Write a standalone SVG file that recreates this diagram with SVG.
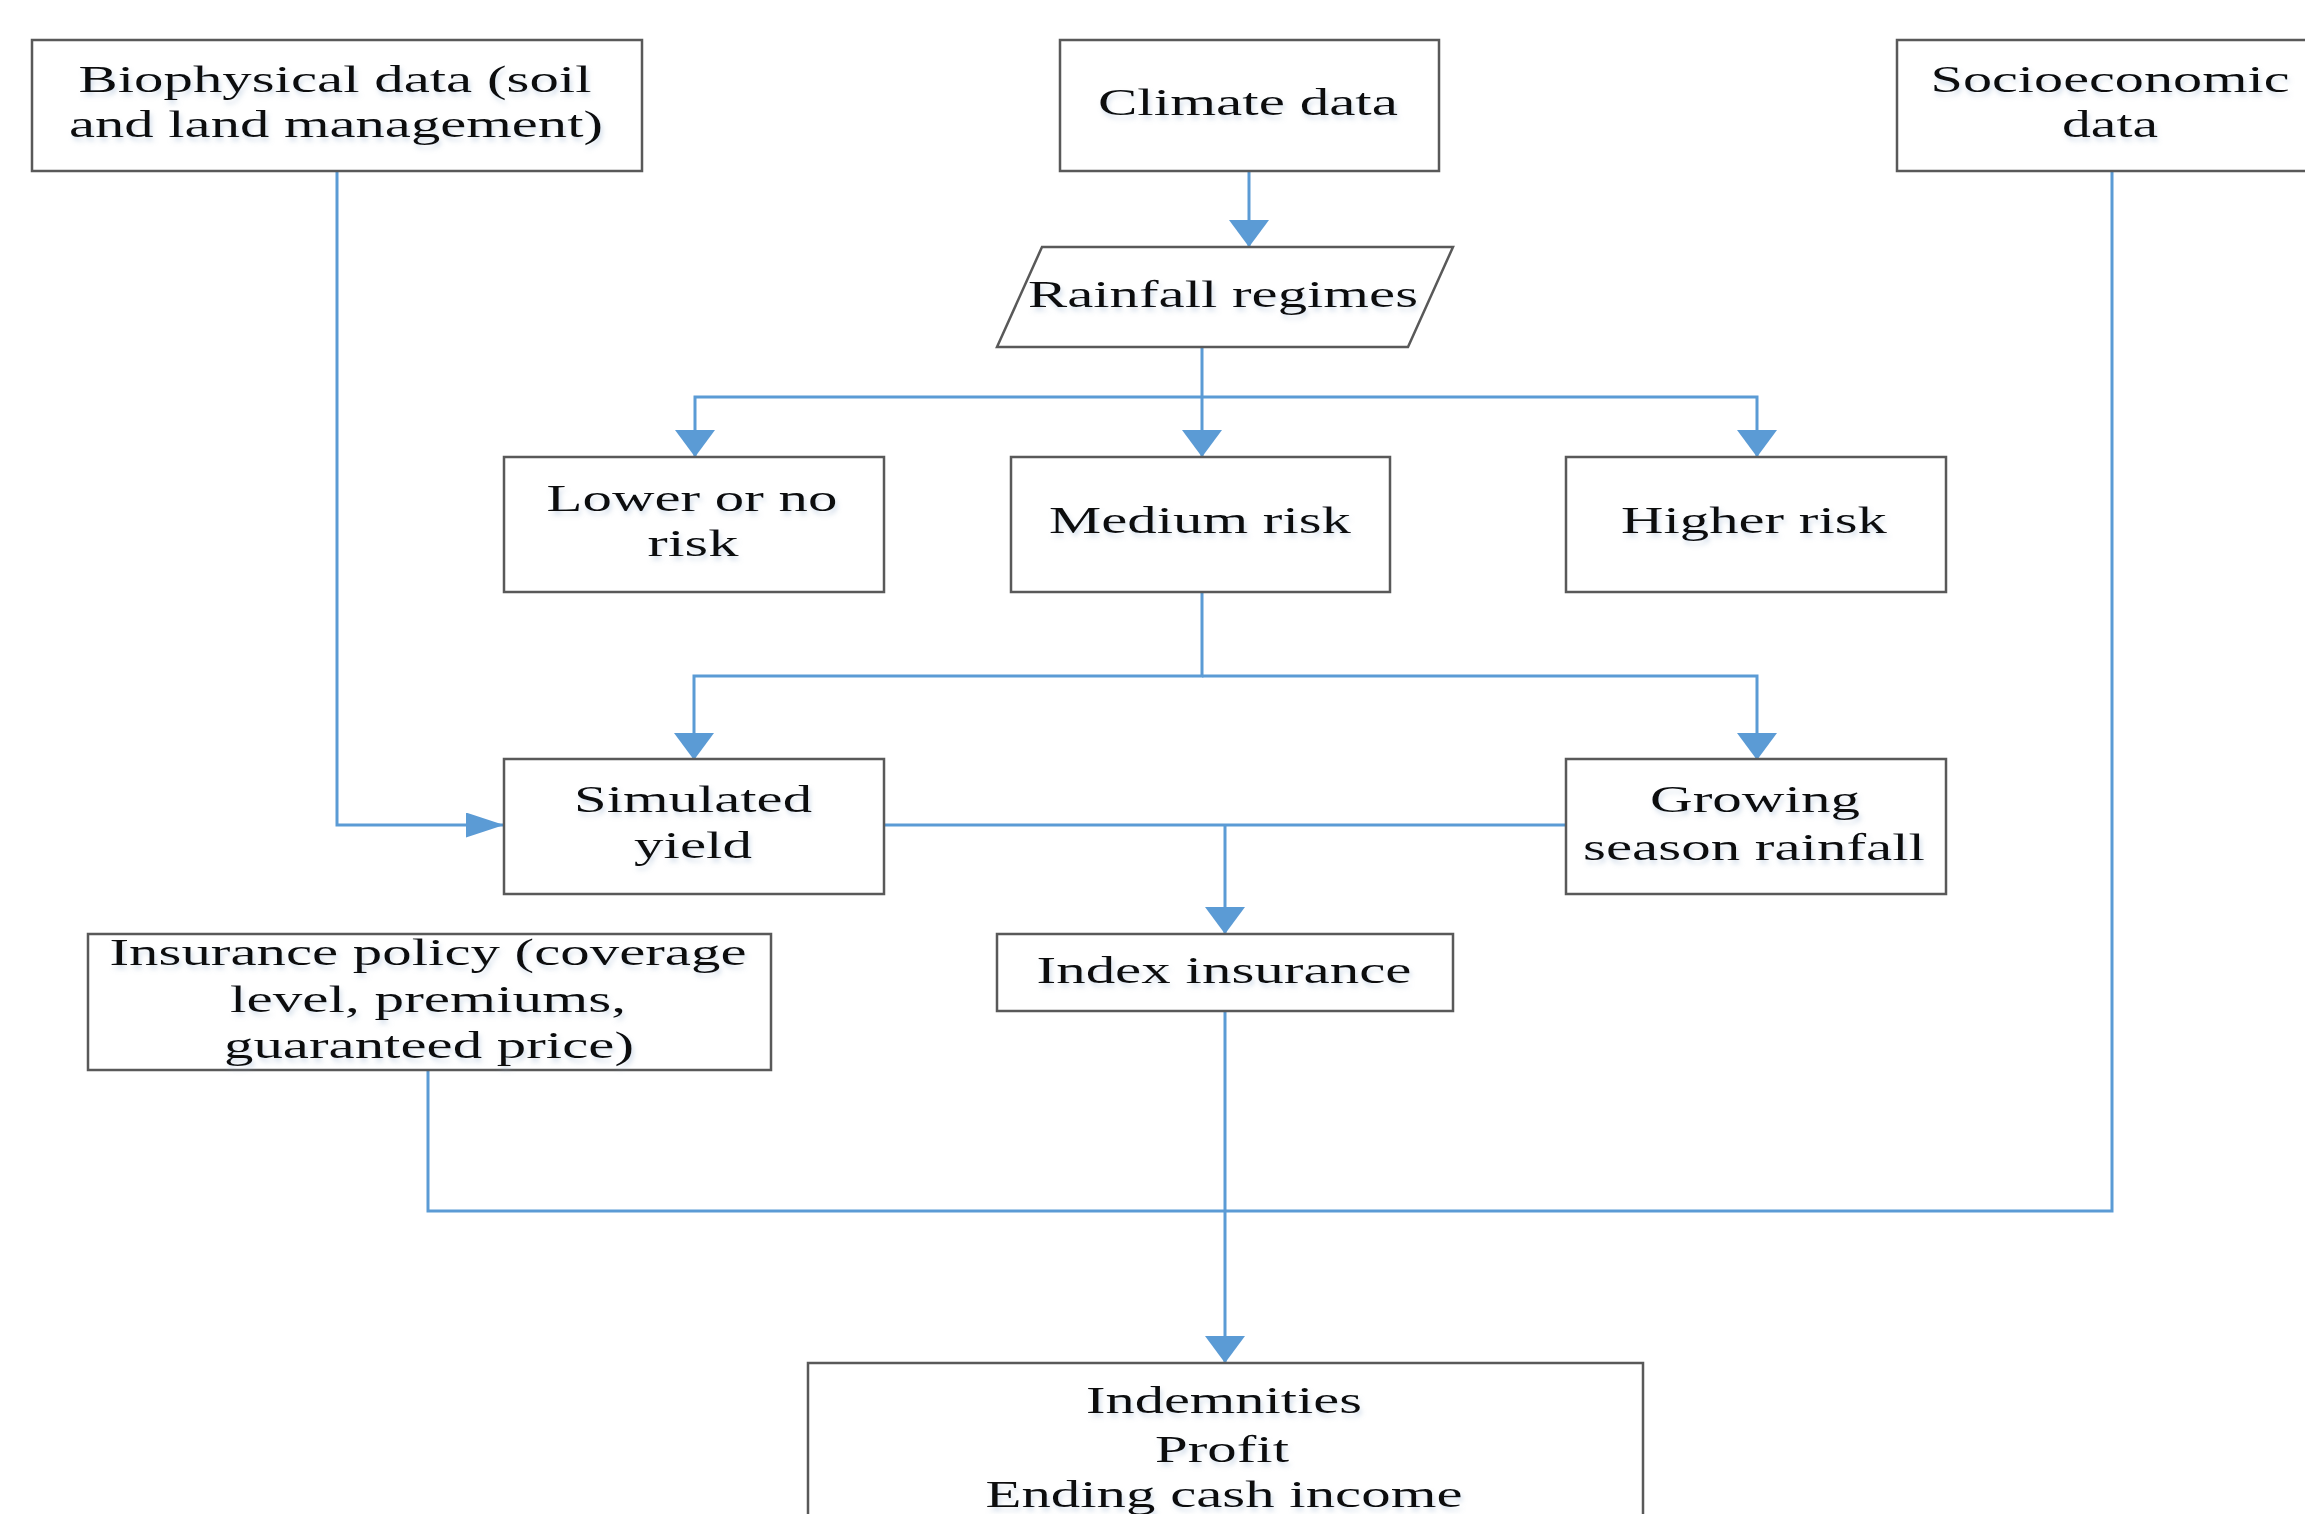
<svg xmlns="http://www.w3.org/2000/svg" width="2305" height="1514" viewBox="0 0 2305 1514">
<style>
.box{fill:#ffffff;stroke:#595959;stroke-width:2.5}
.t{font-family:"Liberation Serif","Times New Roman",serif;font-size:37px;fill:#111;text-anchor:middle;filter:url(#ts)}
.c{fill:none;stroke:#5B9BD5;stroke-width:3}
</style>
<defs>
<filter id="ts" x="-5%" y="-30%" width="110%" height="170%">
<feGaussianBlur in="SourceAlpha" stdDeviation="2.5"/>
<feOffset dx="2" dy="4" result="b"/>
<feFlood flood-color="#8aa6c8" flood-opacity="0.35"/>
<feComposite in2="b" operator="in"/>
<feMerge><feMergeNode/><feMergeNode in="SourceGraphic"/></feMerge>
</filter>
<marker id="ad" markerUnits="userSpaceOnUse" orient="auto" markerWidth="27" markerHeight="40" viewBox="0 0 27 40" refX="27" refY="20"><path d="M0 0 L27 20 L0 40 Z" fill="#5B9BD5"/></marker>
<marker id="ar" markerUnits="userSpaceOnUse" orient="auto" markerWidth="38" markerHeight="25" viewBox="0 0 38 25" refX="38" refY="12.5"><path d="M0 0 L38 12.5 L0 25 Z" fill="#5B9BD5"/></marker>
</defs>
<rect width="2305" height="1514" fill="#ffffff"/>
<g id="connectors">
<path class="c" d="M1249 171 V247" marker-end="url(#ad)"/>
<path class="c" d="M1202 347 V457" marker-end="url(#ad)"/>
<path class="c" d="M1202 397 H695 V457" marker-end="url(#ad)"/>
<path class="c" d="M1202 397 H1757 V457" marker-end="url(#ad)"/>
<path class="c" d="M1202 592 V676 H694 V760" marker-end="url(#ad)"/>
<path class="c" d="M1202 676 H1757 V760" marker-end="url(#ad)"/>
<path class="c" d="M337 171 V825 H504" marker-end="url(#ar)"/>
<path class="c" d="M884 825 H1566"/>
<path class="c" d="M1225 825 V934" marker-end="url(#ad)"/>
<path class="c" d="M1225 1011 V1363" marker-end="url(#ad)"/>
<path class="c" d="M428 1070 V1211 H2112 V171"/>
</g>
<g id="biophysical">
<rect class="box" x="32" y="40" width="610" height="131"/>
<text class="t" x="335" y="92" textLength="513" lengthAdjust="spacingAndGlyphs">Biophysical data (soil</text>
<text class="t" x="336" y="137" textLength="534" lengthAdjust="spacingAndGlyphs">and land management)</text>
</g>
<g id="climate">
<rect class="box" x="1060" y="40" width="379" height="131"/>
<text class="t" x="1248" y="115" textLength="300" lengthAdjust="spacingAndGlyphs">Climate data</text>
</g>
<g id="socioeconomic">
<rect class="box" x="1897" y="40" width="430" height="131"/>
<text class="t" x="2110" y="92" textLength="359" lengthAdjust="spacingAndGlyphs">Socioeconomic</text>
<text class="t" x="2110" y="137" textLength="96" lengthAdjust="spacingAndGlyphs">data</text>
</g>
<g id="rainfall">
<polygon class="box" points="1042,247 1453,247 1408,347 997,347"/>
<text class="t" x="1223" y="307" textLength="390" lengthAdjust="spacingAndGlyphs">Rainfall regimes</text>
</g>
<g id="lower">
<rect class="box" x="504" y="457" width="380" height="135"/>
<text class="t" x="692" y="511" textLength="291" lengthAdjust="spacingAndGlyphs">Lower or no</text>
<text class="t" x="693" y="556" textLength="91" lengthAdjust="spacingAndGlyphs">risk</text>
</g>
<g id="medium">
<rect class="box" x="1011" y="457" width="379" height="135"/>
<text class="t" x="1200" y="533" textLength="302" lengthAdjust="spacingAndGlyphs">Medium risk</text>
</g>
<g id="higher">
<rect class="box" x="1566" y="457" width="380" height="135"/>
<text class="t" x="1754" y="533" textLength="266" lengthAdjust="spacingAndGlyphs">Higher risk</text>
</g>
<g id="simulated">
<rect class="box" x="504" y="759" width="380" height="135"/>
<text class="t" x="693" y="812" textLength="238" lengthAdjust="spacingAndGlyphs">Simulated</text>
<text class="t" x="693" y="858" textLength="118" lengthAdjust="spacingAndGlyphs">yield</text>
</g>
<g id="growing">
<rect class="box" x="1566" y="759" width="380" height="135"/>
<text class="t" x="1755" y="812" textLength="210" lengthAdjust="spacingAndGlyphs">Growing</text>
<text class="t" x="1754" y="860" textLength="342" lengthAdjust="spacingAndGlyphs">season rainfall</text>
</g>
<g id="policy">
<rect class="box" x="88" y="934" width="683" height="136"/>
<text class="t" x="428" y="965" textLength="637" lengthAdjust="spacingAndGlyphs">Insurance policy (coverage</text>
<text class="t" x="428" y="1012" textLength="396" lengthAdjust="spacingAndGlyphs">level, premiums,</text>
<text class="t" x="429" y="1058" textLength="410" lengthAdjust="spacingAndGlyphs">guaranteed price)</text>
</g>
<g id="index">
<rect class="box" x="997" y="934" width="456" height="77"/>
<text class="t" x="1224" y="983" textLength="375" lengthAdjust="spacingAndGlyphs">Index insurance</text>
</g>
<g id="outcomes">
<rect class="box" x="808" y="1363" width="835" height="200"/>
<text class="t" x="1224" y="1413" textLength="276" lengthAdjust="spacingAndGlyphs">Indemnities</text>
<text class="t" x="1222" y="1462" textLength="134" lengthAdjust="spacingAndGlyphs">Profit</text>
<text class="t" x="1224" y="1507" textLength="477" lengthAdjust="spacingAndGlyphs">Ending cash income</text>
</g>
</svg>
